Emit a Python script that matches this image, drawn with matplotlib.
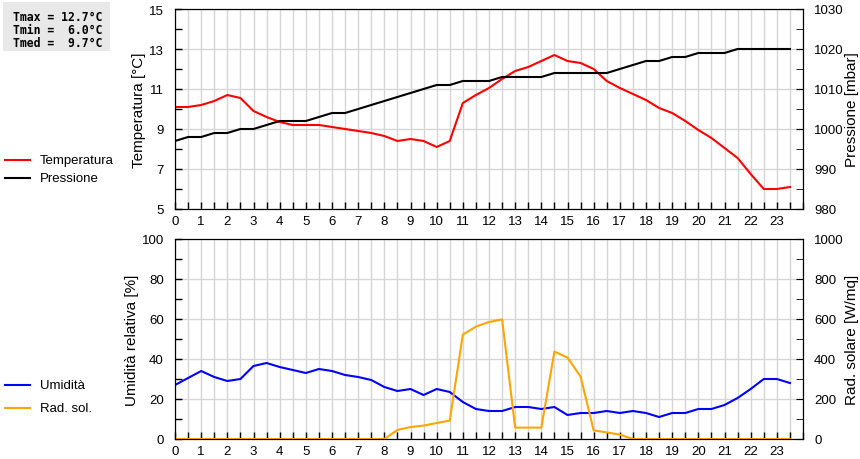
import numpy as np
import matplotlib
matplotlib.use('Agg')
import matplotlib.pyplot as plt
from matplotlib.lines import Line2D
from matplotlib.patches import Rectangle
from matplotlib.ticker import MultipleLocator

# half-hour readings
hours = np.arange(0, 24, 0.5)

temperature = [10.1, 10.1, 10.2, 10.4, 10.7, 10.55, 9.9, 9.6, 9.35, 9.2, 9.2, 9.2,
               9.1, 9.0, 8.9, 8.8, 8.65, 8.4, 8.5, 8.4, 8.1, 8.4, 10.3, 10.7,
               11.05, 11.5, 11.9, 12.1, 12.4, 12.7, 12.4, 12.3, 12.0, 11.4, 11.05, 10.75,
               10.45, 10.05, 9.8, 9.4, 8.95, 8.55, 8.05, 7.55, 6.75, 6.0, 6.0, 6.1]
pressure = [997, 998, 998, 999, 999, 1000, 1000, 1001, 1002, 1002, 1002, 1003,
            1004, 1004, 1005, 1006, 1007, 1008, 1009, 1010, 1011, 1011, 1012, 1012,
            1012, 1013, 1013, 1013, 1013, 1014, 1014, 1014, 1014, 1014, 1015, 1016,
            1017, 1017, 1018, 1018, 1019, 1019, 1019, 1020, 1020, 1020, 1020, 1020]
humidity = [27, 30.5, 34, 31, 29, 30, 36.5, 38, 36, 34.5, 33, 35,
            34, 32, 31, 29.5, 26, 24, 25, 22, 25, 23.5, 18.5, 15,
            14, 14, 16, 16, 15, 16, 12, 13, 13, 14, 13, 14,
            13, 11, 13, 13, 15, 15, 17, 20.5, 25, 30, 30, 28]
radiation = [0, 0, 0, 0, 0, 0, 0, 0, 0, 0, 0, 0,
             0, 0, 0, 0, 0, 45, 60, 67, 80, 92, 522, 562,
             585, 598, 57, 57, 57, 437, 407, 312, 43, 33, 22, 0,
             0, 0, 0, 0, 0, 0, 0, 0, 0, 0, 0, 0]

temp_ticks = [5, 7, 9, 11, 13, 15]
stats_text = "Tmax = 12.7°C\nTmin =  6.0°C\nTmed =  9.7°C"

plt.rcParams['font.family'] = ['Liberation Sans', 'DejaVu Sans']

fig = plt.figure(figsize=(8.6, 4.6), dpi=100)
ax1 = fig.add_axes([175/860, 1-210/460, 628/860, 200/460])
ax3 = fig.add_axes([175/860, 1-440/460, 628/860, 200/460])
ax2 = ax1.twinx()
ax4 = ax3.twinx()

grid_col = '#d6d6d6'


def style(ax, ylo, yhi, minor):
	ax.set_xlim(0, 24)
	ax.set_ylim(ylo, yhi)
	ax.xaxis.set_minor_locator(MultipleLocator(0.5))
	ax.yaxis.set_minor_locator(MultipleLocator(minor))
	ax.set_xticks(range(24))
	ax.tick_params(which='both', direction='in', labelsize=9.5, width=1, length=5)
	ax.tick_params(axis='x', pad=4)
	ax.tick_params(axis='y', pad=8)
	ax.grid(True, which='major', axis='y', color=grid_col, lw=1)
	ax.grid(True, which='both', axis='x', color=grid_col, lw=1)
	ax.set_axisbelow(True)


style(ax1, 5, 15, 1)
ax1.set_yticks(temp_ticks)
style(ax3, 0, 100, 10)
ax3.yaxis.set_major_locator(MultipleLocator(20))
for ax, lo, hi, mj, mn in [(ax2, 980, 1030, 10, 5), (ax4, 0, 1000, 200, 100)]:
	ax.set_ylim(lo, hi)
	ax.yaxis.set_major_locator(MultipleLocator(mj))
	ax.yaxis.set_minor_locator(MultipleLocator(mn))
	ax.tick_params(which='both', direction='in', length=5, labelsize=9.5, pad=8)

ax1.plot(hours, temperature, color='#ff0000', lw=1.5, zorder=3)
ax2.plot(hours, pressure, color='black', lw=1.5)
ax3.plot(hours, humidity, color='#0000ff', lw=1.5, zorder=3)
ax4.plot(hours, radiation, color='#ffa500', lw=1.5)

ax1.set_ylabel('Temperatura [°C]', fontsize=11, labelpad=2)
ax2.set_ylabel('Pressione [mbar]', fontsize=11, labelpad=1)
ax3.set_ylabel('Umidità relativa [%]', fontsize=11, labelpad=2)
ax4.set_ylabel('Rad. solare [W/mq]', fontsize=11, labelpad=1)

# stats box
fig.add_artist(Rectangle((3/860, 1-52/460), 107/860, 49/460, transform=fig.transFigure,
                         fc='#e8e8e8', ec='none'))
fig.text(13/860, 1-11/460, stats_text, ha='left', va='top', family='DejaVu Sans Mono',
         fontweight='bold', fontsize=8.3, linespacing=1.0)

# legends at the left
legend_items = [('Temperatura', '#ff0000', 161), ('Pressione', 'black', 179),
                ('Umidità', '#0000ff', 386), ('Rad. sol.', '#ffa500', 409)]
for label, col, ypix in legend_items:
	y = 1 - ypix/460
	fig.add_artist(Line2D([5/860, 30/860], [y, y], color=col, lw=1.5))
	fig.text(40/860, y, label, ha='left', va='center', fontsize=9.5)

fig.savefig('out.png', dpi=100)
